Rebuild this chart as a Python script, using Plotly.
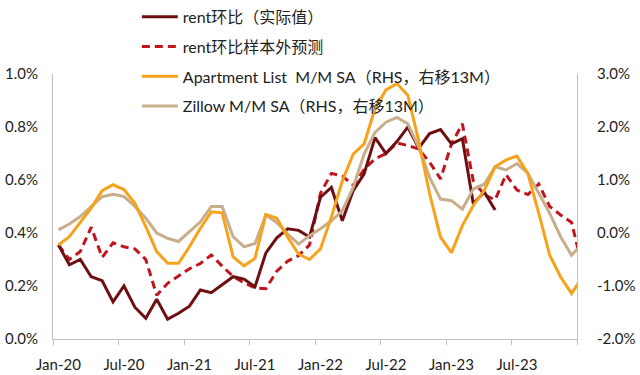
import plotly.graph_objects as go

# ---- data (monthly, index 0 = Jan-20) ----
tick_labels = ["Jan-20", "Jul-20", "Jan-21", "Jul-21", "Jan-22", "Jul-22", "Jan-23", "Jul-23"]

rent_actual = [0.355, 0.28, 0.30, 0.235, 0.22, 0.14, 0.20, 0.12, 0.078, 0.15,
               0.075, 0.097, 0.124, 0.185, 0.175, 0.204, 0.235, 0.226, 0.197, 0.325,
               0.382, 0.416, 0.41, 0.385, 0.535, 0.572, 0.446, 0.56, 0.623, 0.76,
               0.70, 0.745, 0.80, 0.72, 0.775, 0.79, 0.736, 0.756, 0.51, 0.555, 0.487]

rent_forecast = [0.355, 0.30, 0.33, 0.422, 0.308, 0.363, 0.348, 0.34, 0.30, 0.165,
                 0.21, 0.238, 0.265, 0.285, 0.317, 0.275, 0.236, 0.212, 0.193, 0.19,
                 0.256, 0.294, 0.315, 0.355, 0.55, 0.625, 0.615, 0.58, 0.64, 0.68,
                 0.70, 0.74, 0.73, 0.717, 0.667, 0.604, 0.736, 0.812, 0.597, 0.545,
                 0.525, 0.62, 0.562, 0.545, 0.585, 0.50, 0.468, 0.44, 0.27]

apartment_list = [-0.226, -0.07, 0.2, 0.47, 0.8, 0.91, 0.82, 0.56, 0.12, -0.35,
                  -0.57, -0.57, -0.26, 0.09, 0.40, 0.38, -0.45, -0.62, -0.48, 0.35,
                  0.28, -0.08, -0.40, -0.50, -0.30, 0.30, 0.98, 1.49, 1.68, 2.35,
                  2.70, 2.82, 2.60, 1.74, 0.74, -0.08, -0.37, 0.14, 0.52, 0.80,
                  1.25, 1.38, 1.45, 1.12, 0.37, -0.42, -0.83, -1.14, -0.83]

zillow = [0.06, 0.17, 0.31, 0.50, 0.685, 0.73, 0.69, 0.50, 0.28, 0.0,
          -0.10, -0.16, 0.03, 0.21, 0.50, 0.50, -0.07, -0.26, -0.20, 0.34,
          0.20, -0.02, -0.21, -0.05, 0.08, 0.23, 0.42, 0.86, 1.49, 1.90,
          2.09, 2.18, 2.06, 1.62, 1.05, 0.64, 0.61, 0.45, 0.83, 0.92,
          1.25, 1.19, 1.31, 1.13, 0.75, 0.37, -0.07, -0.42, -0.2]

left_ticks = [0.0, 0.2, 0.4, 0.6, 0.8, 1.0]
left_labels = ["0.0%", "0.2%", "0.4%", "0.6%", "0.8%", "1.0%"]
right_ticks = [-2, -1, 0, 1, 2, 3]
right_labels = ["-2.0%", "-1.0%", "0.0%", "1.0%", "2.0%", "3.0%"]

names = ["rent环比（实际值）", "rent环比样本外预测",
         "Apartment List  M/M SA（RHS，右移13M）", "Zillow M/M SA（RHS，右移13M）"]

FONT = "Lato, 'Noto Sans CJK SC', sans-serif"
AX = "#BFBFBF"

fig = go.Figure()
fig.add_trace(go.Scatter(x=list(range(len(zillow))), y=zillow, name=names[3], yaxis="y2",
                         mode="lines", line=dict(color="#C8AE8A", width=3),
                         legendgroup="d", legendrank=4))
fig.add_trace(go.Scatter(x=list(range(len(apartment_list))), y=apartment_list, name=names[2], yaxis="y2",
                         mode="lines", line=dict(color="#F7A21B", width=3),
                         legendgroup="c", legendrank=3))
fig.add_trace(go.Scatter(x=list(range(len(rent_forecast))), y=rent_forecast, name=names[1],
                         mode="lines", line=dict(color="#C0141E", width=3, dash="8px,5px"),
                         legendgroup="b", legendrank=2))
fig.add_trace(go.Scatter(x=list(range(len(rent_actual))), y=rent_actual, name=names[0],
                         mode="lines", line=dict(color="#6E1012", width=3),
                         legendgroup="a", legendrank=1))

fig.update_layout(
    width=640, height=375,
    margin=dict(l=53, r=63, t=74, b=36, autoexpand=False),
    paper_bgcolor="white", plot_bgcolor="white",
    font=dict(family=FONT, size=15, color="#222222"),
    showlegend=True,
    legend=dict(x=0.16, y=1.28, xanchor="left", yanchor="top",
                font=dict(size=16, color="#222222"), bgcolor="rgba(0,0,0,0)",
                tracegroupgap=6, traceorder="grouped", itemwidth=36),
    xaxis=dict(range=[-0.5, 47.5], tickmode="array", automargin=False,
               tickvals=[0, 6, 12, 18, 24, 30, 36, 42], ticktext=tick_labels,
               ticks="", showgrid=False, zeroline=False,
               showline=True, linecolor=AX, linewidth=1,
               minor=dict(tickmode="array",
                          tickvals=[-0.5, 5.5, 11.5, 17.5, 23.5, 29.5, 35.5, 41.5, 47.5],
                          ticks="outside", ticklen=5, tickcolor=AX, showgrid=False),
               tickfont=dict(size=15), ticklabelstandoff=12),
    yaxis=dict(range=[0, 1.0], tickmode="array", tickvals=left_ticks, ticktext=left_labels,
               showgrid=False, zeroline=False, showline=True, linecolor=AX, linewidth=1,
               ticks="", tickfont=dict(size=15), automargin=False, ticklabelstandoff=11),
    yaxis2=dict(range=[-2, 3], tickmode="array", tickvals=right_ticks, ticktext=right_labels,
                overlaying="y", side="right", showgrid=False, zeroline=False,
                showline=True, linecolor=AX, linewidth=1, ticks="", tickfont=dict(size=15),
                automargin=False, ticklabelstandoff=16),
)

fig.write_html("out.html", config={"displayModeBar": False},
               post_script="document.body.style.margin='0px';")
